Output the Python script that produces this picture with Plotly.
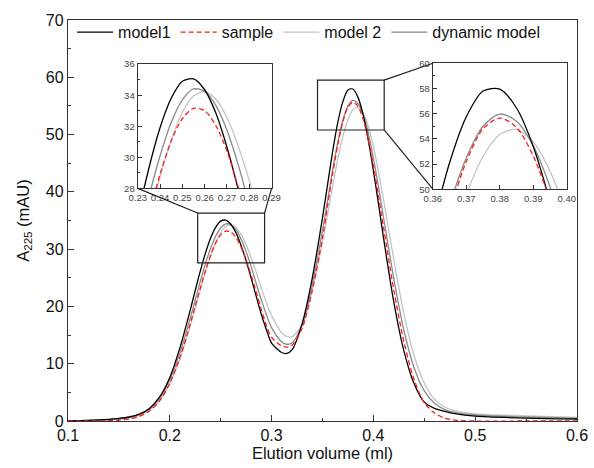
import plotly.graph_objects as go

# ---------------- data ----------------
elution_ml = [0.10, 0.12, 0.14, 0.15, 0.16, 0.17, 0.18, 0.19, 0.20, 0.21,
              0.22, 0.225, 0.23, 0.235, 0.24, 0.245, 0.25, 0.255, 0.26, 0.265,
              0.27, 0.275, 0.28, 0.285, 0.29, 0.295, 0.30, 0.31, 0.315, 0.32,
              0.33, 0.34, 0.35, 0.355, 0.36, 0.365, 0.37, 0.375, 0.38, 0.385,
              0.39, 0.395, 0.40, 0.405, 0.41, 0.42, 0.43, 0.44, 0.45, 0.46,
              0.47, 0.48, 0.50, 0.55, 0.60]

model1 = [0.05, 0.12, 0.3, 0.45, 0.7, 1.2, 2.2, 4.2, 7.6, 12.8,
          19.3, 22.8, 26.2, 29.3, 31.9, 33.8, 34.9, 35.05, 34.35, 32.85,
          30.65, 27.95, 24.9, 21.7, 18.55, 15.9, 13.6, 11.95, 11.8, 12.4,
          17.0, 25.0, 35.5, 41.3, 47.1, 52.1, 55.75, 57.8, 57.95, 56.45,
          53.4, 49.0, 43.7, 37.9, 31.9, 20.8, 12.2, 6.5, 3.3, 2.2,
          1.7, 1.3, 0.85, 0.5, 0.35]

sample = [0.0, 0.0, 0.05, 0.15, 0.35, 0.8, 1.75, 3.5, 6.6, 11.1,
          16.9, 20.1, 23.25, 26.25, 28.9, 31.05, 32.5, 33.15, 33.0, 32.05,
          30.4, 28.1, 25.4, 22.45, 19.4, 16.6, 14.6, 13.1, 12.9, 13.2,
          16.2, 22.8, 32.0, 37.6, 43.2, 48.2, 52.2, 54.8, 55.65, 54.9,
          52.65, 49.1, 44.55, 39.3, 33.75, 22.9, 13.8, 7.2, 3.2, 1.4,
          0.5, 0.15, 0.0, 0.0, 0.0]

model2 = [0.05, 0.1, 0.22, 0.35, 0.55, 1.0, 1.9, 3.6, 6.55, 10.9,
          16.55, 19.7, 22.9, 25.95, 28.75, 31.1, 32.9, 33.95, 34.22, 33.75,
          32.55, 30.75, 28.5, 25.9, 23.15, 20.6, 18.4, 15.4, 14.75, 14.7,
          16.8, 22.9, 31.3, 36.0, 41.0, 45.7, 49.6, 52.6, 54.35, 54.75,
          53.75, 51.45, 47.95, 43.55, 38.55, 28.2, 18.7, 11.4, 6.6, 3.8,
          2.45, 1.8, 1.25, 0.9, 0.65]

dynamic_model = [0.05, 0.1, 0.25, 0.4, 0.6, 1.1, 2.1, 3.9, 7.2, 11.9,
                 17.9, 21.15, 24.4, 27.45, 30.1, 32.25, 33.7, 34.4, 34.25, 33.35,
                 31.75, 29.55, 26.9, 23.95, 21.1, 18.5, 16.3, 13.8, 13.4, 13.6,
                 16.8, 23.8, 33.3, 38.5, 43.9, 48.7, 52.5, 55.0, 55.97, 55.4,
                 53.45, 50.2, 45.9, 40.9, 35.5, 24.9, 15.8, 9.3, 5.25, 3.1,
                 2.0, 1.5, 1.05, 0.7, 0.5]

series_names = ["model1", "sample", "model 2", "dynamic model"]

# axis ranges
main_x_range = [0.1, 0.6]
main_y_range = [0, 70]
inset1_x_range = [0.23, 0.29]
inset1_y_range = [28, 36]
inset2_x_range = [0.36, 0.40]
inset2_y_range = [50, 60]

# zoom boxes drawn on the main chart (as they appear in the picture)
zoom1_box_x = [0.2274, 0.2931]
zoom1_box_y = [27.6, 36.3]
zoom2_box_x = [0.3451, 0.4106]
zoom2_box_y = [50.8, 59.5]

# ---------------- styles ----------------
styles = {
    "model1": dict(color="#000000", width=1.3, dash="solid"),
    "sample": dict(color="#ff1a1a", width=1.3, dash="5px,3px"),
    "model 2": dict(color="#c4c4c4", width=1.3, dash="solid"),
    "dynamic model": dict(color="#8a8a8a", width=1.3, dash="solid"),
}
values = {"model1": model1, "sample": sample, "model 2": model2,
          "dynamic model": dynamic_model}
draw_order = ["model 2", "dynamic model", "model1", "sample"]
rank = {n: i for i, n in enumerate(series_names)}

fig = go.Figure()
for axes in [("x", "y"), ("x2", "y2"), ("x3", "y3")]:
    for name in draw_order:
        fig.add_trace(go.Scatter(
            x=elution_ml, y=values[name], mode="lines", name=name,
            line=dict(shape="spline", smoothing=0.8, **styles[name]),
            xaxis=axes[0], yaxis=axes[1],
            showlegend=(axes[0] == "x"), legendrank=rank[name] + 1,
            hoverinfo="skip"))

AX = "#333333"
FONT = "Liberation Sans, Arial, sans-serif"

main_axis = dict(showline=True, linecolor=AX, linewidth=1.3, mirror=True,
                 ticks="inside", ticklen=6, tickcolor=AX, tickwidth=1,
                 showgrid=False, zeroline=False,
                 tickfont=dict(size=16, color="#111111"))

ins_axis = dict(showline=True, linecolor=AX, linewidth=1.3, mirror=True,
                ticks="inside", ticklen=4, tickcolor=AX, tickwidth=1,
                showgrid=False, zeroline=False,
                tickfont=dict(size=9.5, color="#444444"))

ins1_dom_x = [0.137, 0.400]
ins1_dom_y = [0.580, 0.890]
ins2_dom_x = [0.7168, 0.9798]
ins2_dom_y = [0.578, 0.892]

fig.update_layout(
    width=594, height=468,
    margin=dict(l=67.5, r=17, t=20, b=47.3, autoexpand=False),
    paper_bgcolor="white", plot_bgcolor="white",
    font=dict(family=FONT, color="#111111"),
    xaxis=dict(main_axis, range=main_x_range, dtick=0.1, tick0=0.1,
               tickformat=".1f", domain=[0, 1],
               minor=dict(dtick=0.05, tick0=0.1, ticks="inside", ticklen=3,
                          tickcolor=AX),
               title=dict(text="Elution volume (ml)", font=dict(size=16.5),
                          standoff=4)),
    yaxis=dict(main_axis, range=main_y_range, dtick=10, domain=[0, 1],
               minor=dict(dtick=5, ticks="inside", ticklen=3, tickcolor=AX),
               title=dict(text="A<sub>225</sub> (mAU)", font=dict(size=16.5),
                          standoff=12)),
    xaxis2=dict(ins_axis, range=inset1_x_range, dtick=0.01, tickformat=".2f",
                domain=ins1_dom_x, anchor="y2"),
    yaxis2=dict(ins_axis, range=inset1_y_range, dtick=2, domain=ins1_dom_y,
                anchor="x2",
                minor=dict(dtick=1, ticks="inside", ticklen=2, tickcolor=AX)),
    xaxis3=dict(ins_axis, range=inset2_x_range, dtick=0.01, tickformat=".2f",
                domain=ins2_dom_x, anchor="y3"),
    yaxis3=dict(ins_axis, range=inset2_y_range, dtick=2, domain=ins2_dom_y,
                anchor="x3",
                minor=dict(dtick=1, ticks="inside", ticklen=2, tickcolor=AX)),
    legend=dict(orientation="h", x=0.008, y=1.012, xanchor="left",
                yanchor="top", bgcolor="rgba(0,0,0,0)",
                font=dict(size=16, color="#111111"), itemwidth=36,
                traceorder="normal"),
    showlegend=True,
)


def px(v, rng):
    return (v - rng[0]) / (rng[1] - rng[0])


line_style = dict(color="#222222", width=1.2)
shapes = [
    dict(type="rect", xref="x", yref="y", x0=zoom1_box_x[0], x1=zoom1_box_x[1],
         y0=zoom1_box_y[0], y1=zoom1_box_y[1], line=line_style),
    dict(type="rect", xref="x", yref="y", x0=zoom2_box_x[0], x1=zoom2_box_x[1],
         y0=zoom2_box_y[0], y1=zoom2_box_y[1], line=line_style),
    # connectors for inset 1
    dict(type="line", xref="paper", yref="paper",
         x0=ins1_dom_x[0], y0=ins1_dom_y[0],
         x1=px(zoom1_box_x[0], main_x_range), y1=px(zoom1_box_y[1], main_y_range),
         line=line_style),
    dict(type="line", xref="paper", yref="paper",
         x0=ins1_dom_x[1], y0=ins1_dom_y[0],
         x1=px(zoom1_box_x[1], main_x_range), y1=px(zoom1_box_y[1], main_y_range),
         line=line_style),
    # connectors for inset 2
    dict(type="line", xref="paper", yref="paper",
         x0=ins2_dom_x[0], y0=ins2_dom_y[1],
         x1=px(zoom2_box_x[1], main_x_range), y1=px(zoom2_box_y[1], main_y_range),
         line=line_style),
    dict(type="line", xref="paper", yref="paper",
         x0=ins2_dom_x[0], y0=ins2_dom_y[0],
         x1=px(zoom2_box_x[1], main_x_range), y1=px(zoom2_box_y[0], main_y_range),
         line=line_style),
]
fig.update_layout(shapes=shapes)

fig.write_html("out.html")
